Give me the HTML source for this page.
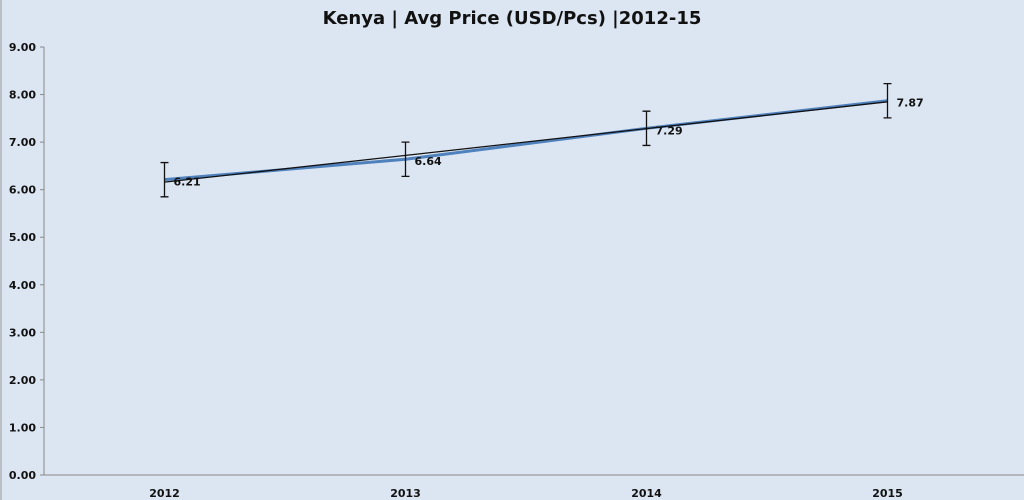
<!DOCTYPE html>
<html><head><meta charset="utf-8"><style>
html,body{margin:0;padding:0;background:#dce6f2;}
svg{display:block;font-family:"DejaVu Sans","Liberation Sans",sans-serif;}
</style></head><body>
<svg id="c" width="1024" height="500">
<rect x="0" y="0" width="1024" height="500" fill="#dce6f2"/>
<line x1="1" y1="0" x2="1" y2="500" stroke="#999"/>
<text x="512" y="24" text-anchor="middle" font-size="18" font-weight="bold" fill="#111">Kenya  | Avg Price (USD/Pcs) |2012-15</text>
<g id="axes"></g><g id="marks"></g>
</svg>
<script>
const categories=["2012","2013","2014","2015"];
const prices=[6.21,6.64,7.29,7.87];
const errors=[0.36,0.36,0.36,0.36];
const yTicks=[0,1,2,3,4,5,6,7,8,9];
const NS="http://www.w3.org/2000/svg";
const L=44,R=1008,T=47,B=475,yMax=9;
const y=v=>B-(v/yMax)*(B-T);
const bw=(R-L)/categories.length;
const x=i=>L+bw*(i+0.5);
function mk(tag,attrs,parent,txt){const e=document.createElementNS(NS,tag);for(const k in attrs)e.setAttribute(k,attrs[k]);if(txt!==undefined)e.textContent=txt;document.getElementById(parent).appendChild(e);return e;}
let e;
e=mk("line",{x1:L,y1:T,x2:L,y2:B,stroke:"#888"},"axes");


e=mk("line",{x1:L,y1:B,x2:1024,y2:B,stroke:"#888"},"axes");


yTicks.forEach(t=>{
 e=mk("line",{x1:L-4,y1:y(t),x2:L,y2:y(t),stroke:"#888"},"axes");
 
 
 e=mk("text",{x:36,y:y(t)+4,"text-anchor":"end","font-size":"11","font-weight":"bold",fill:"#111"},"axes",t.toFixed(2));
 
 
});
categories.forEach((c,i)=>{
 e=mk("text",{x:x(i),y:497,"text-anchor":"middle","font-size":"11","font-weight":"bold",fill:"#111"},"axes",c);
 
 
});
// series line
e=mk("polyline",{points:prices.map((v,i)=>x(i)+","+y(v)).join(" "),fill:"none",stroke:"#4f81bd","stroke-width":"3"},"marks");


// linear trendline
const n=prices.length,mx=(n-1)/2,my=prices.reduce((a,b)=>a+b)/n;
let sxy=0,sxx=0;prices.forEach((v,i)=>{sxy+=(i-mx)*(v-my);sxx+=(i-mx)*(i-mx);});
const sl=sxy/sxx,ic=my-sl*mx;
e=mk("line",{x1:x(0),y1:y(ic),x2:x(n-1),y2:y(ic+sl*(n-1)),stroke:"#111","stroke-width":"1.3"},"marks");


prices.forEach((v,i)=>{
 const cx=x(i),t=y(v+errors[i]),b=y(v-errors[i]);
 e=mk("path",{d:`M${cx},${t}V${b}M${cx-4},${t}H${cx+4}M${cx-4},${b}H${cx+4}`,stroke:"#111","stroke-width":"1.3",fill:"none"},"marks");
 
 
 e=mk("text",{x:cx+9,y:y(v)+6,"font-size":"11","font-weight":"bold",fill:"#111"},"marks",v.toFixed(2));
 
 
});
</script>
</body></html>
